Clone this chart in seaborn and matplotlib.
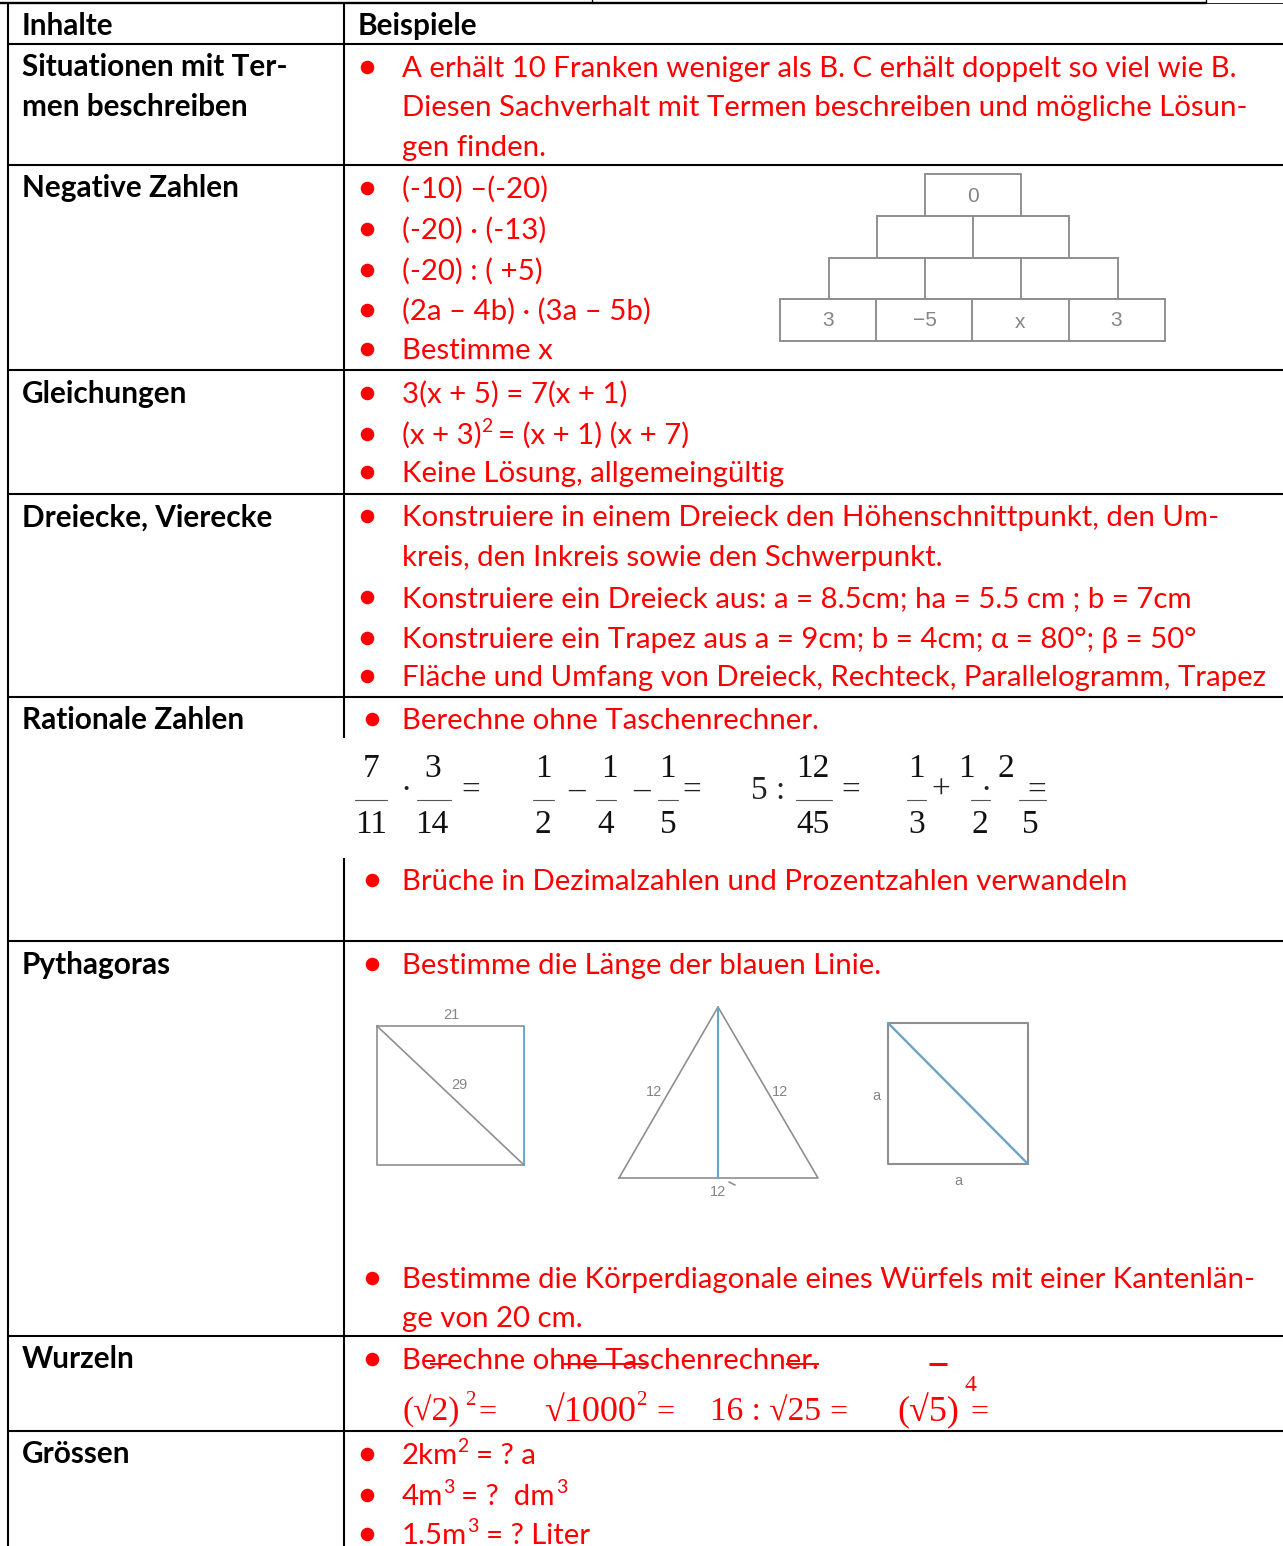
import matplotlib
matplotlib.use("Agg")
import matplotlib.pyplot as plt
import seaborn as sns

sns.set_theme(style="white")
plt.rcParams['font.family'] = ['Lato', 'DejaVu Sans']

RED = '#ff0000'
GREY = '#8f8f8f'
BLUE = '#6ba3c6'
BODY = 21.2
HEAD = 21.4

# table text
header = ['Inhalte', 'Beispiele']
row_labels = ['Situationen mit Ter-', 'men beschreiben', 'Negative Zahlen', 'Gleichungen',
              'Dreiecke, Vierecke', 'Rationale Zahlen', 'Pythagoras', 'Wurzeln', 'Grössen']
row_label_y = [76, 116, 197, 403, 527, 729, 974, 1368, 1463]

example_lines = [
    'A erhält 10 Franken weniger als B. C erhält doppelt so viel wie B.',
    'Diesen Sachverhalt mit Termen beschreiben und mögliche Lösun-',
    'gen finden.',
    '(-10) –(-20)', '(-20) · (-13)', '(-20) : ( +5)', '(2a – 4b) · (3a – 5b)', 'Bestimme x',
    '3(x + 5) = 7(x + 1)', '(x + 3)', 'Keine Lösung, allgemeingültig',
    'Konstruiere in einem Dreieck den Höhenschnittpunkt, den Um-',
    'kreis, den Inkreis sowie den Schwerpunkt.',
    'Konstruiere ein Dreieck aus: a = 8.5cm; ha = 5.5 cm ; b = 7cm',
    'Konstruiere ein Trapez aus a = 9cm; b = 4cm; α = 80°; β = 50°',
    'Fläche und Umfang von Dreieck, Rechteck, Parallelogramm, Trapez',
    'Berechne ohne Taschenrechner.',
    'Brüche in Dezimalzahlen und Prozentzahlen verwandeln',
    'Bestimme die Länge der blauen Linie.',
    'Bestimme die Körperdiagonale eines Würfels mit einer Kantenlän-',
    'ge von 20 cm.',
    'Berechne ohne Taschenrechner.',
    '2km', '4m', '1.5m',
]
example_y = [77, 116, 156, 198, 239, 280, 320, 359, 403, 444, 482, 526, 566, 607, 648, 686,
             729, 890, 974, 1288, 1327, 1369, 1464, 1505, 1544]

# bullets, by the line they belong to
bullet_lines_a = [0, 3, 4, 5, 6, 7, 8, 9, 10, 11, 13, 14, 15, 22, 23, 24]
bullet_lines_b = [16, 17, 18, 19, 21]

# superscripts and the text after them
sup_text = ['2', '2', '3', '3', '3']
sup_x = [481, 457, 443, 556, 467]
sup_y = [432, 1452, 1493, 1493, 1532]
after_text = ['= (x + 1) (x + 7)', '= ? a', '= ?  dm', '= ? Liter']
after_x = [498, 476, 461, 486]
after_y = [444, 1464, 1505, 1544]

# fractions
frac_top = ['7', '3', '1', '1', '1', '12', '1', '1', '2']
frac_top_x = [371, 433, 543, 609, 667, 813, 916, 966, 1006]
frac_bottom = ['11', '14', '2', '4', '5', '45', '3', '2', '5']
frac_bottom_x = [371, 432, 543, 606, 668, 813, 917, 980, 1030]
frac_bar_start = [355, 417, 533, 596, 658, 796, 907, 971, 1019]
frac_bar_end = [387, 451, 554, 616, 678, 832, 926, 990, 1046]
frac_ops = ['·', '=', '–', '–', '=', '5 :', '=', '+', '·', '=']
frac_ops_x = [406, 471, 577, 642, 692, 768, 851, 941, 986, 1037]

# roots
root_text = ['(√2)', '√1000', '16 : √25', '(√5)', '=']
root_size = [24, 26, 24, 26, 23]
root_x = [402, 544, 710, 897, 970]
root_after = ['2', '=', '2', '=', '=']
root_after_x = [465, 478, 636, 656, 829]
root_after_y = [1405, 1421, 1405, 1421, 1421]
strike_start = [430, 562, 786, 929]
strike_end = [449, 647, 819, 947]

# number pyramid
pyramid_labels = ['0', '3', '−5', 'x', '3']
pyramid_label_x = [973, 828, 925, 1020, 1116]
pyramid_label_y = [197, 321, 321, 322, 321]
pyramid_rows = [(925, 1, 174, 216), (877, 2, 216, 258), (829, 3, 258, 299), (780, 4, 299, 341)]
pyramid_cell = 96.2

# figure labels in the Pythagoras row
fig_labels = ['21', '29', '12', '12', '12', 'a', 'a']
fig_label_x = [451, 459, 654, 780, 718, 876, 958]
fig_label_y = [1015, 1085, 1092, 1092, 1192, 1096, 1181]

# table rules
rule_y = [43.5, 165, 370, 494, 697, 941, 1336, 1431]

fig = plt.figure(figsize=(12.83, 15.46), dpi=100)
ax = fig.add_axes([0, 0, 1, 1])

# bullets
sns.scatterplot(x=[367] * len(bullet_lines_a), y=[example_y[i] - 10 for i in bullet_lines_a],
                color=RED, s=95, linewidth=0, ax=ax, legend=False)
sns.scatterplot(x=[372] * len(bullet_lines_b), y=[example_y[i] - 10 for i in bullet_lines_b],
                color=RED, s=95, linewidth=0, ax=ax, legend=False)

ax.set_xlim(0, 1283)
ax.set_ylim(1546, 0)
ax.axis('off')

# rules
for y in rule_y:
    ax.plot([8, 1283], [y, y], color='black', lw=1.5, solid_capstyle='butt')
ax.plot([0, 1206], [3, 3], color='black', lw=1.7, solid_capstyle='butt')
ax.plot([1206, 1283], [2.5, 2.5], color='black', lw=0.6)
ax.plot([592, 592], [0, 3], color='black', lw=1)
ax.plot([1206, 1206], [0, 3], color='black', lw=1)
ax.plot([8, 8], [3, 1546], color='black', lw=1.5, solid_capstyle='butt')
ax.plot([344, 344], [3, 738], color='black', lw=1.5, solid_capstyle='butt')
ax.plot([344, 344], [858, 1546], color='black', lw=1.5, solid_capstyle='butt')

# header and first column
ax.text(22, 35, header[0], fontsize=HEAD, fontweight='bold', color='black', va='baseline')
ax.text(358, 35, header[1], fontsize=HEAD, fontweight='bold', color='black', va='baseline')
for label, y in zip(row_labels, row_label_y):
    ax.text(22, y, label, fontsize=HEAD, fontweight='bold', color='black', va='baseline')

# examples
for line, y in zip(example_lines, example_y):
    ax.text(401.5, y, line, fontsize=BODY, color=RED, va='baseline')
for s, x, y in zip(sup_text, sup_x, sup_y):
    ax.text(x, y, s, fontsize=14, color=RED, va='baseline')
for s, x, y in zip(after_text, after_x, after_y):
    ax.text(x, y, s, fontsize=BODY, color=RED, va='baseline')

# fractions
for s, x in zip(frac_top, frac_top_x):
    ax.text(x, 777, s, fontsize=24, family='Liberation Serif', color='#111111', ha='center', va='baseline')
for s, x in zip(frac_bottom, frac_bottom_x):
    ax.text(x, 833, s, fontsize=24, family='Liberation Serif', color='#111111', ha='center', va='baseline')
for a, b in zip(frac_bar_start, frac_bar_end):
    ax.plot([a, b], [800, 800], color='#555555', lw=0.8)
for s, x in zip(frac_ops, frac_ops_x):
    ax.text(x, 799, s, fontsize=24, family='Liberation Serif', color='#222222', ha='center', va='baseline')

# roots
for s, x, size in zip(root_text, root_x, root_size):
    ax.text(x, 1421, s, fontsize=size, family='Liberation Serif', color=RED, va='baseline')
for s, x, y in zip(root_after, root_after_x, root_after_y):
    ax.text(x, y, s, fontsize=15 if s == '2' else 23, family='Liberation Serif', color=RED, va='baseline')
ax.text(970, 1391, '4', fontsize=17, family='Liberation Serif', color=RED, ha='center', va='baseline')
for a, b in zip(strike_start, strike_end):
    ax.plot([a, b], [1364, 1364], color=RED, lw=1.4 if b != 947 else 2.2, solid_capstyle='butt')

# number pyramid
for left, n_cells, top, bottom in pyramid_rows:
    right = left + n_cells * pyramid_cell
    ax.plot([left, right], [top, top], color=GREY, lw=1.4)
    ax.plot([left, right], [bottom, bottom], color=GREY, lw=1.4)
    for i in range(n_cells + 1):
        ax.plot([left + i * pyramid_cell] * 2, [top, bottom], color=GREY, lw=1.4)
for s, x, y in zip(pyramid_labels, pyramid_label_x, pyramid_label_y):
    ax.text(x, y, s, fontsize=15, family='Liberation Sans', color='#858585', ha='center', va='center')

# Pythagoras figures
ax.plot([377, 524, 524, 377, 377], [1026, 1026, 1165, 1165, 1026], color=GREY, lw=1.2)
ax.plot([524, 524], [1026, 1165], color=BLUE, lw=0.8)
ax.plot([377, 524], [1026, 1165], color=GREY, lw=1.2)
ax.plot([619, 718, 818, 619], [1178, 1007, 1178, 1178], color=GREY, lw=1.2)
ax.plot([718, 718], [1007, 1178], color=BLUE, lw=1.5)
ax.plot([729, 735], [1182, 1185], color=GREY, lw=1.2)
ax.plot([888, 1028, 1028, 888, 888], [1023, 1023, 1164, 1164, 1023], color=GREY, lw=1.5)
ax.plot([888, 1028], [1023, 1164], color=BLUE, lw=1.7)
for s, x, y in zip(fig_labels, fig_label_x, fig_label_y):
    ax.text(x, y, s, fontsize=10.5, family='Liberation Sans', color='#858585', ha='center', va='center')

fig.savefig('out.png', dpi=100)
